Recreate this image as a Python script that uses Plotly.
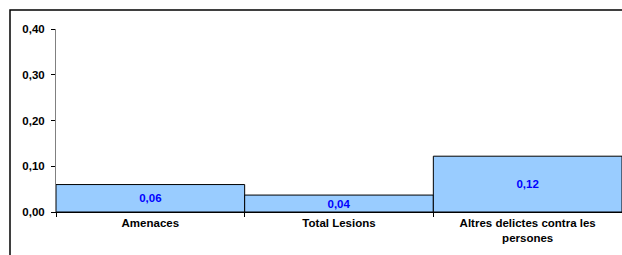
import plotly.graph_objects as go

categories = ["Amenaces", "Total Lesions", "Altres delictes contra les persones"]
tick_labels = ["Amenaces", "Total Lesions", "Altres delictes contra les<br>persones"]
values = [0.06, 0.037, 0.122]

fig = go.Figure()
fig.add_trace(go.Bar(
    x=categories, y=values,
    marker=dict(color="#99CCFF", line=dict(color="#000000", width=1)),
    texttemplate="%{y:.2f}", textposition="inside", insidetextanchor="middle",
    textfont=dict(family="Arial", size=11.5, color="#0000FF", weight="bold"),
    textangle=0, constraintext="none",
))

fig.update_layout(
    width=622, height=255,
    margin=dict(l=56, r=0, t=29, b=43),
    paper_bgcolor="white", plot_bgcolor="white",
    separators=",.",
    bargap=0,
    showlegend=False,
    font=dict(family="Arial", size=12, color="#000000"),
    xaxis=dict(
        tickmode="array", tickvals=categories, ticktext=tick_labels,
        tickson="boundaries", ticks="outside", ticklen=4, tickcolor="#000000",
        showline=True, linecolor="#000000", linewidth=1,
        tickfont=dict(family="Arial", size=11.5, color="#000000", weight="bold"),
        showgrid=False, fixedrange=True,
    ),
    yaxis=dict(
        range=[0, 0.4], dtick=0.1, tickformat=".2f",
        ticks="outside", ticklen=4, tickcolor="#000000",
        showline=True, linecolor="#808080", linewidth=1,
        tickfont=dict(family="Arial", size=11.5, color="#000000", weight="bold"),
        ticklabelstandoff=4,
        showgrid=False, zeroline=False, fixedrange=True,
    ),
    shapes=[dict(type="rect", xref="paper", yref="paper",
                 x0=(10 - 56) / 566, x1=1.2, y0=-0.6, y1=1 + 19 / 183,
                 line=dict(color="#000000", width=1.5), fillcolor="rgba(0,0,0,0)")],
)

fig.write_html("out.html", config={"displayModeBar": False, "staticPlot": True},
               post_script="document.body.style.margin='0';document.body.style.overflow='hidden';")
